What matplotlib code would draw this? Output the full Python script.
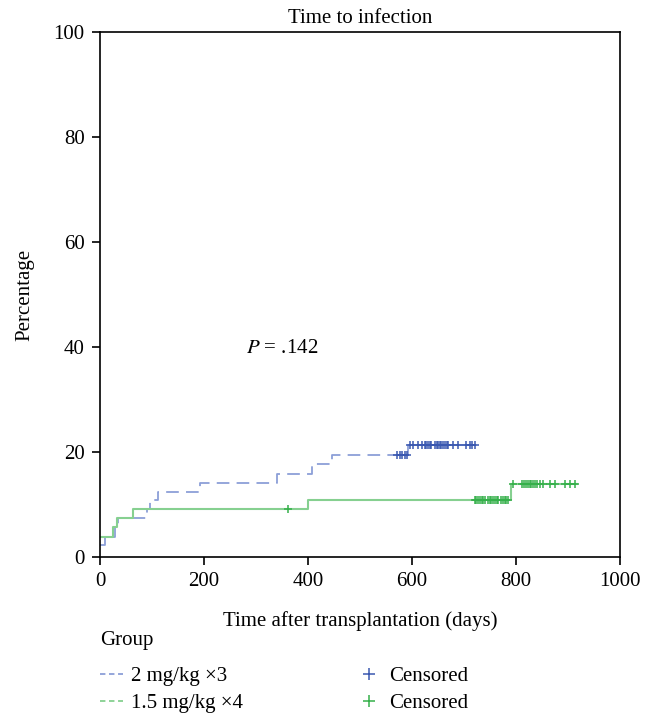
import numpy as np
import matplotlib.pyplot as plt
from matplotlib.lines import Line2D

# Kaplan-Meier style cumulative incidence (%), step changes
blue_times = [0, 10, 29, 34, 90, 96, 112, 192, 341, 408, 447, 593, 725]
blue_pct = [2.3, 3.9, 5.8, 7.4, 9.1, 10.9, 12.4, 14.2, 15.9, 17.7, 19.4, 21.3, 21.3]
blue_censor = [572, 577, 581, 586, 590, 596, 603, 612, 619, 625, 628, 631, 634, 637,
               644, 648, 651, 655, 657, 660, 663, 667, 670, 680, 689, 705, 712, 715, 721]

green_times = [0, 26, 32, 63, 401, 790, 917]
green_pct = [3.9, 5.8, 7.4, 9.1, 10.9, 14.0, 14.0]
green_censor = [362, 721, 724, 728, 731, 734, 737, 741, 747, 750, 753, 757, 760,
                763, 766, 772, 776, 779, 782, 785, 795, 811, 816, 820, 824, 827,
                830, 833, 837, 840, 846, 852, 865, 875, 894, 904, 913]

blue_line = '#8c9fd8'
blue_mark = '#3a58b0'
green_line = '#86d090'
green_mark = '#35b04a'

plt.rcParams['font.family'] = ['Liberation Serif', 'DejaVu Serif']
plt.rcParams['mathtext.fontset'] = 'stix'


def value_at(times, pct, t):
    i = np.searchsorted(times, t, side='right') - 1
    return np.asarray(pct)[i]


fig = plt.figure(figsize=(6.49, 7.17), dpi=100)
ax = fig.add_axes([0.154, 0.223, 0.801, 0.732])

ax.step(blue_times, blue_pct, where='post', color=blue_line, lw=1.3,
        dashes=(7, 4))
ax.step(green_times, green_pct, where='post', color=green_line, lw=1.5)

ax.plot(blue_censor, value_at(blue_times, blue_pct, blue_censor), ls='none',
        marker='+', ms=6, mew=1.1, color=blue_mark)
ax.plot(green_censor, value_at(green_times, green_pct, green_censor), ls='none',
        marker='+', ms=6, mew=1.1, color=green_mark)

ax.set_xlim(0, 1000)
ax.set_ylim(0, 100)
ax.set_xticks(range(0, 1001, 200))
ax.set_yticks(range(0, 101, 20))
ax.tick_params(direction='out', length=6, width=1.2, labelsize=15, pad=5)
for s in ax.spines.values():
    s.set_linewidth(1.2)

ax.set_title('Time to infection', fontsize=15, pad=7)
ax.set_xlabel('Time after transplantation (days)', fontsize=15, labelpad=14)
ax.set_ylabel('Percentage', fontsize=15, labelpad=14)

ax.text(280, 38, r'$P$ = .142', fontsize=15, ha='left', va='bottom')

handles = [
    Line2D([], [], color=blue_line, lw=1.3, dashes=(3, 2)),
    Line2D([], [], color=green_line, lw=1.3, dashes=(3, 2)),
    Line2D([], [], ls='none', marker='+', ms=9, mew=1.1, color=blue_mark),
    Line2D([], [], ls='none', marker='+', ms=9, mew=1.1, color=green_mark),
]
labels = ['2 mg/kg \u00d73', '1.5 mg/kg \u00d74', 'Censored', 'Censored']
leg = fig.legend(handles, labels, ncol=2, title='Group', frameon=False,
                 loc='upper left', bbox_to_anchor=(0.125, 0.146),
                 fontsize=15, title_fontsize=15, alignment='left',
                 handlelength=1.1, handletextpad=0.4, columnspacing=5.5,
                 labelspacing=0.35)
leg._legend_box.sep = 12

fig.savefig('out.png', dpi=100)
